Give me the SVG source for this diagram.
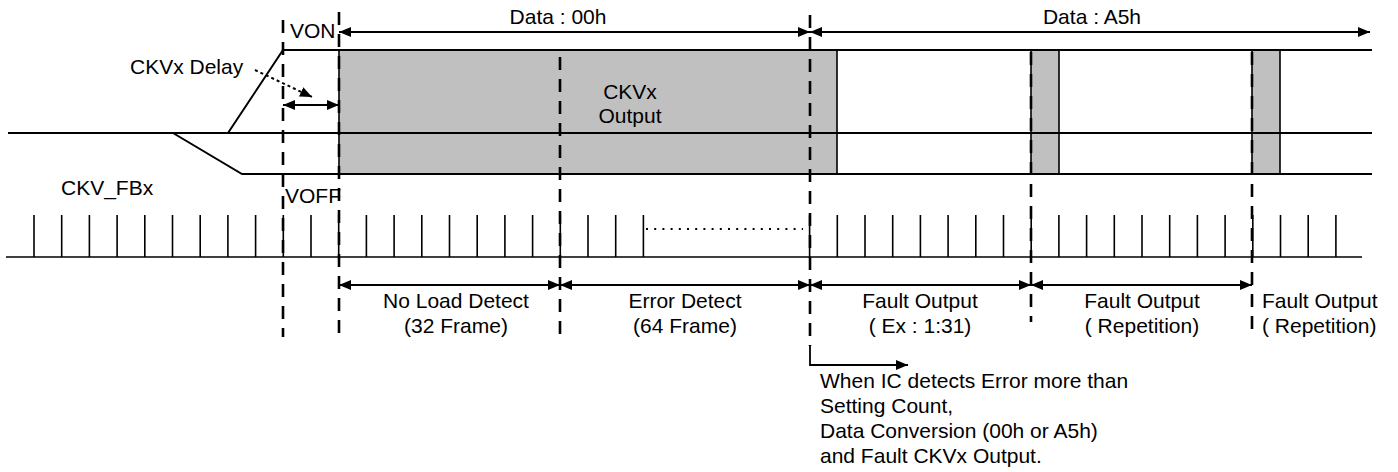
<svg xmlns="http://www.w3.org/2000/svg" width="1398" height="472" viewBox="0 0 1398 472">
  <style>
    text { font-family: "Liberation Sans", Arial, sans-serif; font-size: 21px; fill: #000; }
    .mid { text-anchor: middle; }
    .wire { fill: none; stroke: #000; stroke-width: 2; }
    .thin { fill: none; stroke: #000; stroke-width: 1.6; }
    .dash { fill: none; stroke: #000; stroke-width: 2.6; stroke-dasharray: 13 9; }
    .gray { fill: #c0c0c0; stroke: #000; stroke-width: 1.6; }
    .dim { fill: none; stroke: #000; stroke-width: 1.8; marker-start: url(#ah); marker-end: url(#ah); }
  </style>
  <defs>
    <marker id="ah" viewBox="0 0 12 10" refX="12" refY="5" markerWidth="12" markerHeight="10" markerUnits="userSpaceOnUse" orient="auto-start-reverse">
      <path d="M0 0L12 5L0 10Z" fill="#000"/>
    </marker>
  </defs>

  <!-- CKVx output waveform -->
  <g id="ckvx-wave">
    <rect class="gray" x="339" y="50" width="498" height="124"/>
    <rect class="gray" x="1031" y="50" width="28" height="124"/>
    <rect class="gray" x="1252" y="50" width="28" height="124"/>
    <path class="wire" d="M8 133H1372"/>
    <path class="wire" d="M228 133L283 50H1372"/>
    <path class="wire" d="M173 133L242 174H1372"/>
    <text class="mid" x="630" y="99">CKVx</text>
    <text class="mid" x="630" y="123">Output</text>
  </g>

  <!-- CKV_FBx feedback pulse train -->
  <g id="ckv-fbx">
    <text x="61" y="195">CKV_FBx</text>
    <path class="thin" d="M6 257H1362"/>
    <path class="thin" d="M34 215V257M61.7 215V257M89.4 215V257M117.1 215V257M144.8 215V257M172.5 215V257M200.2 215V257M227.9 215V257M255.6 215V257M283.3 215V257M311 215V257M338.7 215V257M366.4 215V257M394.1 215V257M421.8 215V257M449.5 215V257M477.2 215V257M504.9 215V257M532.6 215V257M560.3 215V257M588 215V257M615.7 215V257M643.4 215V257M809.6 215V257M837.3 215V257M865 215V257M892.7 215V257M920.4 215V257M948.1 215V257M975.8 215V257M1003.5 215V257M1031.2 215V257M1058.9 215V257M1086.6 215V257M1114.3 215V257M1142 215V257M1169.7 215V257M1197.4 215V257M1225.1 215V257M1252.8 215V257M1280.5 215V257M1308.2 215V257M1335.9 215V257"/>
    <path d="M646 229H803" fill="none" stroke="#000" stroke-width="2" stroke-dasharray="2 6.2"/>
  </g>

  <!-- timing markers -->
  <g id="markers">
    <path class="dash" d="M283 20V337"/>
    <path class="dash" d="M339 12V337"/>
    <path class="dash" d="M560 57V335"/>
    <path class="dash" d="M810 15V346"/>
    <path class="dash" d="M1031 52V322"/>
    <path class="dash" d="M1252 52V336"/>
    <text x="290" y="38">VON</text>
    <text x="285" y="203">VOFF</text>
  </g>

  <g id="delay-label">
    <text x="130" y="74">CKVx Delay</text>
  </g>

  <g id="period-labels">
    <text class="mid" x="558" y="24">Data : 00h</text>
    <text class="mid" x="1092" y="24">Data : A5h</text>
    <text class="mid" x="456" y="308">No Load Detect</text>
    <text class="mid" x="456" y="333">(32 Frame)</text>
    <text class="mid" x="685" y="308">Error Detect</text>
    <text class="mid" x="685" y="333">(64 Frame)</text>
    <text class="mid" x="920" y="308">Fault Output</text>
    <text class="mid" x="920" y="333">( Ex : 1:31)</text>
    <text class="mid" x="1142" y="308">Fault Output</text>
    <text class="mid" x="1142" y="333">( Repetition)</text>
    <text x="1262" y="308">Fault Output</text>
    <text x="1262" y="333">( Repetition)</text>
  </g>

  <g id="note">
    <text x="820" y="388">When IC detects Error more than</text>
    <text x="820" y="413">Setting Count,</text>
    <text x="820" y="438">Data Conversion (00h or A5h)</text>
    <text x="820" y="463">and Fault CKVx Output.</text>
  </g>

  <!-- connectors: dimension arrows and callouts -->
  <g id="connectors">
    <path class="dim" d="M339 32H810"/>
    <path class="dim" d="M810 32H1370"/>
    <path class="dim" d="M283 105H339"/>
    <path d="M255 70L312 97" fill="none" stroke="#000" stroke-width="2" stroke-dasharray="3 3" marker-end="url(#ah)"/>
    <path class="dim" d="M339 285H560"/>
    <path class="dim" d="M560 285H810"/>
    <path class="dim" d="M810 285H1031"/>
    <path class="dim" d="M1031 285H1252"/>
    <path d="M810 346V365H908" fill="none" stroke="#000" stroke-width="1.8" marker-end="url(#ah)"/>
  </g>
</svg>
